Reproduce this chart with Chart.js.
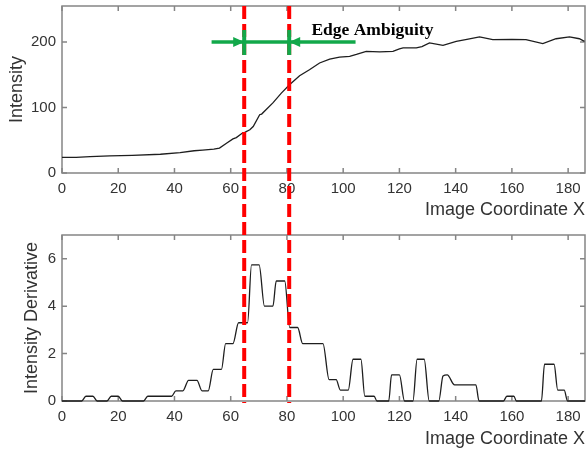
<!DOCTYPE html>
<html><head><meta charset="utf-8">
<script src="https://cdn.jsdelivr.net/npm/chart.js@4"></script>
<style>
html,body{margin:0;padding:0;background:#fff;}
#wrap{position:relative;width:586px;height:450px;overflow:hidden;}
.box{position:absolute;left:0;width:586px;height:225px;}
canvas{display:block;}
</style></head><body>
<div id="wrap">
<div class="box" style="top:0"><canvas id="c1" width="586" height="225"></canvas></div>
<div class="box" style="top:225px"><canvas id="c2" width="586" height="225"></canvas></div>
</div>
<script>
// ---- data ----
const xTickValues = [0,20,40,60,80,100,120,140,160,180];
const intensityTicks = [0,100,200];
const derivativeTicks = [0,2,4,6];

const intensityX = [0,5,10,17,25,35,42,47,50,54,56,58.5,60.8,62,64.4,65,66.8,68,70.3,71,75,78,81,84.5,88,91.6,95.2,98.7,102.3,104.7,108.2,113,117.7,120,121.3,126,128,130.7,135.5,140.2,144,148.5,153.2,160,165,171,175.7,180.5,184,185.8];
const intensityY = [24,24,25,26,27,28.6,31,34,35,36.3,38,45.4,52,54,61.7,62,66,71,89,90,107,122,135,148.5,157.7,168,174,177,178,181,185.8,184.8,185.8,189.4,191,191,193,198.6,195,201,204,207.8,203.7,204,203.7,197.5,205,207.8,205,201];

const derivX = [0,7,8.5,11,12.5,16,17.5,20,21.5,29,30.5,39,40.5,43,45,48,49.8,52,53.8,56.7,58.2,60.8,62.8,66,67.4,70.1,72,75,76.2,79.2,81,83.8,85.6,92.8,95,97.5,99,101.8,103.5,106.3,107.7,111,112,116.2,117.2,120,121.8,124.8,126.3,128.8,130.6,134,135.5,137,139.6,147.2,148.3,157,158.2,160.7,161.6,170.5,171.6,175,176.3,178.6,179.8,186];
const derivY = [0,0,0.2,0.2,0,0,0.2,0.2,0,0,0.2,0.2,0.43,0.43,0.87,0.87,0.43,0.43,1.33,1.33,2.42,2.42,3.3,3.3,5.74,5.74,4.0,4.0,5.06,5.06,3.1,3.1,2.42,2.42,0.9,0.9,0.46,0.46,1.76,1.76,0.2,0.2,0,0,1.1,1.1,0,0,1.76,1.76,0,0,1.05,1.1,0.68,0.68,0,0,0.2,0.2,0,0,1.55,1.55,0.46,0.46,0,0];

const edgeLeft = 64.8, edgeRight = 80.8;
const arrowFrom = 53.2, arrowTo = 104.4, arrowLevel = 200;
const labelX = 88.7, labelLevel = 217;
const labelText = 'Edge Ambiguity';

// ---- helpers ----
const TXT = '#333333';
const FONT = '"Liberation Sans", Arial, sans-serif';

const frame = {
  id: 'frame',
  beforeDatasetsDraw(chart) {
    const {ctx, chartArea: a, scales: {x, y}} = chart;
    ctx.save();
    ctx.strokeStyle = '#858585';
    ctx.lineWidth = 1.5;
    ctx.strokeRect(a.left, a.top, a.right - a.left, a.bottom - a.top);
    const t = 5;
    ctx.beginPath();
    x.ticks.forEach(tk => {
      const p = x.getPixelForValue(tk.value);
      ctx.moveTo(p, a.bottom); ctx.lineTo(p, a.bottom - t);
      ctx.moveTo(p, a.top); ctx.lineTo(p, a.top + t);
    });
    y.ticks.forEach(tk => {
      const p = y.getPixelForValue(tk.value);
      ctx.moveTo(a.left, p); ctx.lineTo(a.left + t, p);
      ctx.moveTo(a.right, p); ctx.lineTo(a.right - t, p);
    });
    ctx.stroke();
    ctx.restore();
  }
};

const edges = {
  id: 'edges',
  afterDraw(chart) {
    const {ctx, chartArea: a, scales: {x, y}} = chart;
    const mode = chart.config.options.edgeMode;
    ctx.save();
    ctx.strokeStyle = '#ff0000';
    ctx.lineWidth = 4;
    ctx.setLineDash([13, 5]);
    let y0, y1;
    if (mode === 'top') { y0 = a.top; y1 = chart.height; ctx.lineDashOffset = 0; }
    else { y0 = 0; y1 = a.bottom + 2; ctx.lineDashOffset = 225 - 6; }
    [edgeLeft, edgeRight].forEach(v => {
      const p = x.getPixelForValue(v);
      ctx.beginPath(); ctx.moveTo(p, y0); ctx.lineTo(p, y1); ctx.stroke();
    });
    ctx.restore();

    if (mode === 'top') {
      const g = '#12a84a';
      const yA = y.getPixelForValue(arrowLevel);
      const xa = x.getPixelForValue(arrowFrom), xb = x.getPixelForValue(arrowTo);
      const e1 = x.getPixelForValue(edgeLeft), e2 = x.getPixelForValue(edgeRight);
      ctx.save();
      ctx.strokeStyle = g; ctx.fillStyle = g;
      ctx.lineWidth = 3.5;
      ctx.beginPath(); ctx.moveTo(xa, yA); ctx.lineTo(xb, yA); ctx.stroke();
      ctx.lineWidth = 4;
      [e1, e2].forEach(p => { ctx.beginPath(); ctx.moveTo(p, yA - 12); ctx.lineTo(p, yA + 13); ctx.stroke(); });
      ctx.beginPath(); ctx.moveTo(e1, yA); ctx.lineTo(e1 - 11, yA - 5); ctx.lineTo(e1 - 11, yA + 5); ctx.closePath(); ctx.fill();
      ctx.beginPath(); ctx.moveTo(e2, yA); ctx.lineTo(e2 + 11, yA - 5); ctx.lineTo(e2 + 11, yA + 5); ctx.closePath(); ctx.fill();
      ctx.fillStyle = '#000';
      ctx.font = 'bold 17.5px "Liberation Serif", "Times New Roman", serif';
      ctx.textBaseline = 'middle';
      ctx.textAlign = 'left';
      ctx.fillText(labelText, x.getPixelForValue(labelX), y.getPixelForValue(labelLevel));
      ctx.restore();
    }
  }
};

function makeChart(id, xs, ys, yTicks, yMax, yTitle, mode, smooth) {
  const points = xs.map((v, i) => ({x: v, y: ys[i]}));
  const top = mode === 'top';
  return new Chart(document.getElementById(id), {
    type: 'line',
    data: {datasets: [{
      data: points,
      borderColor: '#1e1e1e',
      borderWidth: 1.3,
      pointRadius: 0,
      fill: false,
      tension: 0,
      cubicInterpolationMode: smooth ? 'monotone' : 'default',
      clip: false
    }]},
    options: {
      edgeMode: mode,
      responsive: false,
      animation: false,
      devicePixelRatio: 1,
      layout: {padding: {top: top ? 6 : 10, right: 1, left: 0, bottom: 0}},
      plugins: {legend: {display: false}, tooltip: {enabled: false}},
      scales: {
        x: {
          type: 'linear', min: 0, max: 186,
          grid: {display: false, drawTicks: false},
          border: {display: false},
          afterBuildTicks: s => { s.ticks = xTickValues.map(v => ({value: v})); },
          afterFit: s => { s.height = top ? 52 : 49; s.paddingLeft = 0; s.paddingRight = 0; },
          ticks: {color: TXT, font: {family: FONT, size: 15}, padding: 7, maxRotation: 0, autoSkip: false},
          title: {display: true, text: 'Image Coordinate X', align: 'end', color: TXT,
                  font: {family: FONT, size: 18}, padding: {top: 0, bottom: top ? 4 : 0}}
        },
        y: {
          type: 'linear', min: 0, max: yMax,
          grid: {display: false, drawTicks: false},
          border: {display: false},
          afterBuildTicks: s => { s.ticks = yTicks.map(v => ({value: v})); },
          afterFit: s => { s.width = 62; s.paddingTop = 0; s.paddingBottom = 0; },
          ticks: {color: TXT, font: {family: FONT, size: 15}, padding: 6},
          title: {display: true, text: yTitle, color: TXT,
                  font: {family: FONT, size: 18}, padding: {top: top ? 6 : 21, bottom: 0}}
        }
      }
    },
    plugins: [frame, edges]
  });
}

makeChart('c1', intensityX, intensityY, intensityTicks, 255, 'Intensity', 'top', false);
makeChart('c2', derivX, derivY, derivativeTicks, 7, 'Intensity Derivative', 'bottom', true);
</script>
</body></html>
